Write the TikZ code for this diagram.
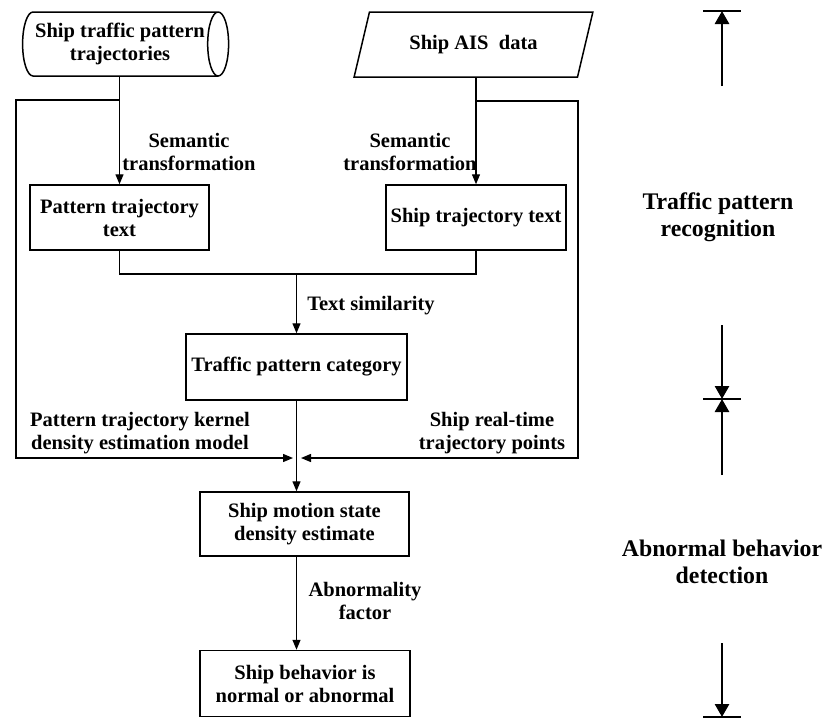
\documentclass[tikz,border=0pt]{standalone}
\usepackage{fontspec}
\setmainfont{Liberation Serif}
\usetikzlibrary{arrows.meta,shapes.geometric,calc}
\begin{document}
\begin{tikzpicture}[x=1pt,y=-1pt,
  every node/.style={font=\fontsize{20.5}{23}\selectfont\bfseries, align=center, inner sep=0pt},
  box/.style={draw, line width=1.5pt, rectangle},
  conn/.style={line width=1.3pt},
  arr/.style={conn, -{Triangle[length=10pt,width=8pt]}},
  big/.style={line width=2.7pt, -{Triangle[length=13pt,width=14pt]}},
  bar/.style={line width=2.5pt},
  side/.style={font=\fontsize{23.8}{26.5}\selectfont\bfseries}
]
\useasboundingbox (0,0) rectangle (824,718);

% nodes
\node[cylinder, draw, line width=1.5pt, minimum width=64pt, minimum height=206pt, aspect=0.5] (cyl) at (120,44) {Ship traffic pattern\\trajectories};
\node[trapezium, draw, line width=1.5pt, trapezium left angle=63, trapezium right angle=117, trapezium stretches=true, minimum width=239pt, minimum height=65pt] (ais) at (473.5,44.5) {Ship AIS\ \ data};
\node[box, minimum width=179pt, minimum height=65pt] (ptt) at (119.5,217.5) {Pattern trajectory\\text};
\node[box, minimum width=180pt, minimum height=65pt] (stt) at (476,217.5) {Ship trajectory text};
\node[box, minimum width=221pt, minimum height=66pt] (cat) at (296.5,367) {Traffic pattern category};
\node[box, minimum width=209pt, minimum height=64pt] (mot) at (304.5,524) {Ship motion state\\density estimate};
\node[box, minimum width=210pt, minimum height=66pt] (res) at (305,683.5) {Ship behavior is\\normal or abnormal};

% labels
\node (l1) at (189,152) {Semantic\\transformation};
\node (l2) at (410,152) {Semantic\\transformation};
\node (l3) at (371,306) {Text similarity};
\node (l4) at (140,433.5) {Pattern trajectory kernel\\density estimation model};
\node (l5) at (492,433.5) {Ship real-time\\trajectory points};
\node (l6) at (365,600.5) {Abnormality\\factor};
\node[side] (s1) at (718,217) {Traffic pattern\\recognition};
\node[side] (s2) at (722,562) {Abnormal behavior\\detection};

% helper coordinates
\coordinate (jA) at (119.5,100);
\coordinate (cL1) at (16,100);
\coordinate (cL2) at (16,458);
\coordinate (inL) at (293,458);
\coordinate (jB) at (476,101);
\coordinate (cR1) at (578,101);
\coordinate (cR2) at (578,458);
\coordinate (inR) at (301,458);
\coordinate (mid) at (296.5,274);

% connectors
\draw[arr] (cyl.south -| ptt.north) -- (ptt.north);
\draw[arr] (ais.south -| stt.north) -- (stt.north);
\draw[arr] (jA) -- (cL1) -- (cL2) -- (inL);
\draw[arr] (jB) -- (cR1) -- (cR2) -- (inR);
\draw[conn] (ptt.south) |- (mid) -| (stt.south);
\draw[arr] (mid) -- (cat.north);
\draw[arr] (cat.south) -- (cat.south |- mot.north);
\draw[arr] (mot.south -| cat.south) -- (cat.south |- res.north);

% side arrows
\coordinate (a1t) at (722,11);
\coordinate (a1b) at (722,86);
\coordinate (a2t) at (722,325);
\coordinate (a2m) at (722,399);
\coordinate (a2b) at (722,475);
\coordinate (a3t) at (722,643);
\coordinate (a3b) at (722,717);
\draw[bar] ($(a1t)+(-19,0)$) -- ($(a1t)+(19,0)$);
\draw[big] (a1b) -- (a1t);
\draw[bar] ($(a2m)+(-19,0)$) -- ($(a2m)+(19,0)$);
\draw[big] (a2t) -- (a2m);
\draw[big] (a2b) -- (a2m);
\draw[bar] ($(a3b)+(-19,0)$) -- ($(a3b)+(19,0)$);
\draw[big] (a3t) -- (a3b);
\end{tikzpicture}
\end{document}
